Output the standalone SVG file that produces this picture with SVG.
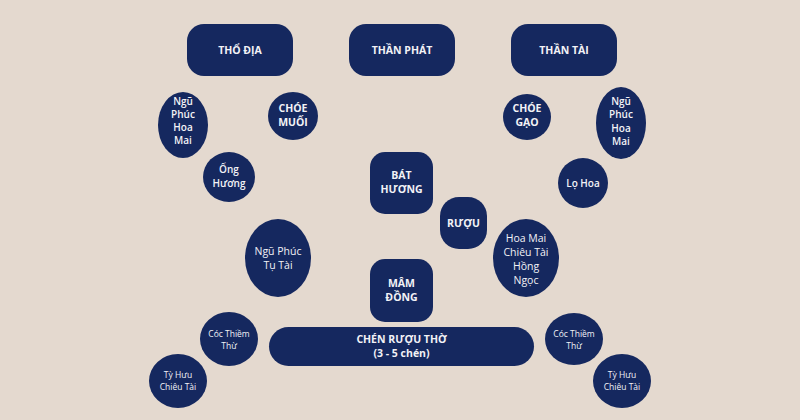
<svg xmlns="http://www.w3.org/2000/svg" width="800" height="420" viewBox="0 0 800 420">
<style>
.n{fill:#15285f}
.t{font-family:"Open Sans","Noto Sans",sans-serif;fill:#f2f2f6;text-anchor:middle}
.b{font-weight:bold;font-size:10.5px}
.m{font-weight:600;font-size:10px}
.r{font-weight:normal;font-size:10.5px}
.s{font-weight:normal;font-size:8.5px}
</style>
<rect width="800" height="420" fill="#e4d9cf"/>
<g id="tho-dia"><rect class="n" x="187" y="24" width="106" height="52" rx="17"/><text class="t b" x="240" y="54">THỔ ĐỊA</text></g>
<g id="than-phat"><rect class="n" x="349" y="24" width="106" height="52" rx="17"/><text class="t b" x="402" y="54">THẦN PHÁT</text></g>
<g id="than-tai"><rect class="n" x="511" y="24" width="106" height="52" rx="17"/><text class="t b" x="564" y="54">THẦN TÀI</text></g>
<g id="ngu-phuc-hoa-mai-l"><ellipse class="n" cx="183" cy="125" rx="25" ry="33"/><text class="t m"><tspan x="183" y="105">Ngũ</tspan><tspan x="183" y="118">Phúc</tspan><tspan x="183" y="131">Hoa</tspan><tspan x="183" y="144">Mai</tspan></text></g>
<g id="choe-muoi"><ellipse class="n" cx="293" cy="116" rx="25" ry="24"/><text class="t b"><tspan x="293" y="112">CHÓE</tspan><tspan x="293" y="126">MUỐI</tspan></text></g>
<g id="ong-huong"><ellipse class="n" cx="229" cy="177" rx="26" ry="25"/><text class="t m"><tspan x="229" y="173">Ống</tspan><tspan x="229" y="187">Hương</tspan></text></g>
<g id="choe-gao"><ellipse class="n" cx="527" cy="117" rx="24" ry="23"/><text class="t b"><tspan x="527" y="112">CHÓE</tspan><tspan x="527" y="126">GẠO</tspan></text></g>
<g id="ngu-phuc-hoa-mai-r"><ellipse class="n" cx="621" cy="123" rx="25" ry="36"/><text class="t m"><tspan x="621" y="105">Ngũ</tspan><tspan x="621" y="118">Phúc</tspan><tspan x="621" y="132">Hoa</tspan><tspan x="621" y="145">Mai</tspan></text></g>
<g id="lo-hoa"><ellipse class="n" cx="583" cy="183" rx="25" ry="25"/><text class="t m" x="583" y="187">Lọ Hoa</text></g>
<g id="bat-huong"><rect class="n" x="370" y="152" width="63" height="62" rx="15"/><text class="t b"><tspan x="401.5" y="179">BÁT</tspan><tspan x="401.5" y="193">HƯƠNG</tspan></text></g>
<g id="ruou"><rect class="n" x="440" y="197" width="47" height="52" rx="19"/><text class="t b" x="463.5" y="227">RƯỢU</text></g>
<g id="ngu-phuc-tu-tai"><ellipse class="n" cx="278" cy="258" rx="33" ry="39"/><text class="t r"><tspan x="278" y="255">Ngũ Phúc</tspan><tspan x="278" y="269">Tụ Tài</tspan></text></g>
<g id="hoa-mai-chieu-tai"><ellipse class="n" cx="526" cy="258" rx="33" ry="39"/><text class="t r"><tspan x="526" y="242">Hoa Mai</tspan><tspan x="526" y="256">Chiêu Tài</tspan><tspan x="526" y="270">Hồng</tspan><tspan x="526" y="284">Ngọc</tspan></text></g>
<g id="mam-dong"><rect class="n" x="370" y="259" width="63" height="63" rx="15"/><text class="t b"><tspan x="401.5" y="287">MÂM</tspan><tspan x="401.5" y="301">ĐỒNG</tspan></text></g>
<g id="chen-ruou-tho"><rect class="n" x="269" y="327" width="265" height="39" rx="19.5"/><text class="t b"><tspan x="401.5" y="343">CHÉN RƯỢU THỜ</tspan><tspan x="401.5" y="357">(3 - 5 chén)</tspan></text></g>
<g id="coc-thiem-thu-l"><ellipse class="n" cx="229" cy="339" rx="29" ry="27"/><text class="t s"><tspan x="229" y="337">Cóc Thiềm</tspan><tspan x="229" y="349">Thừ</tspan></text></g>
<g id="ty-huu-l"><ellipse class="n" cx="178" cy="381" rx="29" ry="27"/><text class="t s"><tspan x="178" y="378">Tỳ Hưu</tspan><tspan x="178" y="390">Chiêu Tài</tspan></text></g>
<g id="coc-thiem-thu-r"><ellipse class="n" cx="574" cy="339" rx="29" ry="26"/><text class="t s"><tspan x="574" y="337">Cóc Thiềm</tspan><tspan x="574" y="349">Thừ</tspan></text></g>
<g id="ty-huu-r"><ellipse class="n" cx="622" cy="381" rx="29" ry="27"/><text class="t s"><tspan x="622" y="378">Tỳ Hưu</tspan><tspan x="622" y="390">Chiêu Tài</tspan></text></g>
<g id="connectors"></g>
</svg>
